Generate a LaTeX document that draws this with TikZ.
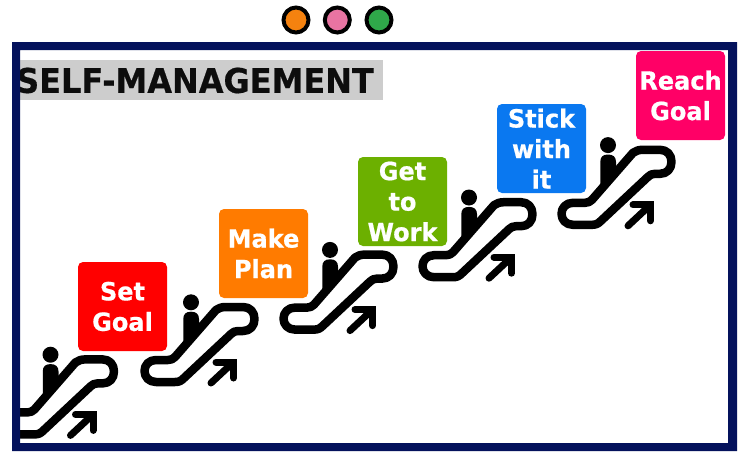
\documentclass[tikz,border=0pt]{standalone}
\usepackage{fontspec}
\setmainfont{DejaVu Sans}
\newfontfamily\boxfont[BoldFeatures={FakeStretch=0.96,FakeBold=0.6}]{DejaVu Sans}
\newfontfamily\titlefont[BoldFeatures={FakeStretch=0.94,FakeBold=0.5}]{DejaVu Sans}
\definecolor{navy}{HTML}{04125C}
\definecolor{titlegrey}{HTML}{CDCDCD}
\definecolor{dotorange}{HTML}{F5820F}
\definecolor{dotpink}{HTML}{E874A2}
\definecolor{dotgreen}{HTML}{2FA84A}
\definecolor{boxred}{HTML}{FF0000}
\definecolor{boxorange}{HTML}{FF7B00}
\definecolor{boxgreen}{HTML}{6CB000}
\definecolor{boxblue}{HTML}{0A78F0}
\definecolor{boxpink}{HTML}{FF0066}
\tikzset{
  x=1pt,y=-1pt,
  dot/.style={circle,draw=black,line width=4pt,minimum size=25pt,inner sep=0pt},
  goalbox/.style={rounded corners=5pt,minimum width=89pt,minimum height=89pt,inner sep=0pt,
    text=white,align=center,font=\fontsize{25}{30.5}\selectfont\boxfont\bfseries},
  rail/.style={line width=8.5pt,black,line join=round,line cap=round},
  motion/.style={line width=7pt,black,line cap=round,line join=miter},
}
\begin{document}
\begin{tikzpicture}
\useasboundingbox (0,0) rectangle (740,453);
\fill[white] (0,0) rectangle (740,453);
\node[dot,fill=dotorange] (d1) at (296,20) {};
\node[dot,fill=dotpink] (d2) at (337.3,20) {};
\node[dot,fill=dotgreen] (d3) at (379,20) {};
\node[fill=titlegrey,minimum width=363pt,minimum height=40pt,inner sep=0pt,anchor=north west] (titlebar) at (20,60) {};
\node[anchor=west,inner sep=0pt,font=\fontsize{34}{38}\selectfont\titlefont\bfseries,text=black!95] (title) at (16,80.5) {SELF-MANAGEMENT};
\begin{scope}
\clip (20,50) rectangle (728,443);
\foreach \k/\dx in {-1/-1.5,0/0,1/0,2/0,3/0}{
  \begin{scope}[shift={({\k*139+\dx},{\k*(-52.4)})}]
    \draw[rail] (226,307) -- (243,307)
      .. controls (250,307) and (254.5,312) .. (254.5,319)
      .. controls (254.5,326) and (250,331) .. (243,331)
      -- (238,331)
      .. controls (235,331) and (233,332) .. (231,334)
      -- (184,378)
      .. controls (181,381) and (179,382) .. (175,382)
      -- (156,382)
      .. controls (149,382) and (144.5,377) .. (144.5,371)
      .. controls (144.5,365) and (149,360) .. (156,360)
      -- (168,360)
      .. controls (171,360) and (173,359) .. (175,357)
      -- (216,310)
      .. controls (218.5,308) and (222,307) .. (226,307) -- cycle;
    \fill[black] (183.3,342) -- (183.3,319) .. controls (183.3,314) and (186,311.7) .. (191,311.7)
      .. controls (196,311.7) and (199,314) .. (199,319) -- (199,330) -- (186,345) -- cycle;
    \fill[black] (191,302.3) circle[radius=8];
    \draw[motion] (211,383) -- (233,362.5);
    \draw[motion] (216,362) -- (233.5,362) -- (233.5,378);
  \end{scope}
}
\end{scope}
\node[goalbox,fill=boxred] (g1) at (122.5,306.5) {Set\\Goal};
\node[goalbox,fill=boxorange] (g2) at (263.5,253.5) {Make\\Plan};
\node[goalbox,fill=boxgreen] (g3) at (402.5,201.5) {Get\\to\\Work};
\node[goalbox,fill=boxblue] (g4) at (541.5,148.5) {Stick\\with\\it};
\node[goalbox,fill=boxpink] (g5) at (680.5,95.5) {Reach\\Goal};
\fill[navy,even odd rule] (12,42) rectangle (737,451) (20,50) rectangle (728,443);
\end{tikzpicture}
\end{document}
